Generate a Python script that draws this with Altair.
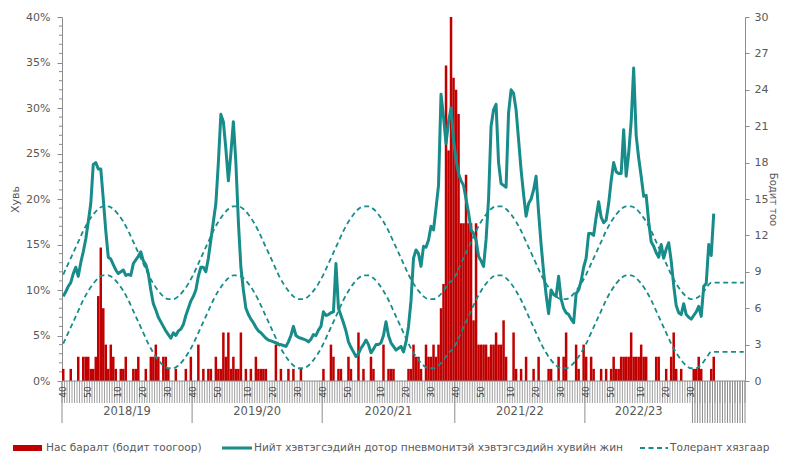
import altair as alt
import pandas as pd

# ---------------- data ----------------
pct = [
    9.3, 9.8, 10.4, 10.8, 11.8, 12.5, 11.5, 13.0, 14.2, 15.6,
    17.5, 19.5, 23.8, 24.0, 23.3, 23.3, 20.0, 16.5, 13.6, 13.4,
    12.8, 12.2, 11.8, 12.0, 12.2, 11.6, 11.7, 11.6, 12.9, 13.3,
    13.7, 14.2, 13.2, 12.8, 11.8, 10.0, 8.5, 7.8, 7.0, 6.5,
    6.0, 5.5, 5.1, 4.7, 5.3, 5.0, 5.5, 5.7, 6.2, 7.2,
    8.0, 8.8,
    9.3, 10.0, 11.5, 12.5, 12.5, 12.0, 13.5, 15.5, 17.5, 19.5,
    24.0, 29.3, 28.5, 25.5, 22.0, 25.0, 28.5, 24.0, 17.5, 12.5,
    10.0, 8.0, 7.3, 6.8, 6.4, 5.9, 5.5, 5.3, 5.0, 4.7,
    4.5, 4.4, 4.3, 4.2, 4.0, 4.0, 3.9, 3.8, 4.3, 5.0,
    6.0, 5.0, 4.8, 4.7, 4.6, 4.5, 4.3, 4.6, 5.1, 5.0,
    5.6, 6.0,
    7.6, 7.2, 7.3, 7.5, 7.6, 12.9, 8.0, 7.2, 6.4, 5.5,
    4.3, 3.7, 3.2, 2.7, 3.0, 3.6, 4.0, 4.5, 4.0, 3.1,
    3.5, 4.0, 4.0, 4.2, 5.0, 6.5, 5.0, 4.2, 3.8, 3.4,
    3.6, 3.8, 3.2, 4.3, 6.0, 8.8, 13.5, 14.4, 14.0, 12.6,
    14.8, 14.7, 15.5, 17.0, 16.6, 19.0, 21.5, 31.5, 29.0, 26.1,
    28.5, 30.0, 26.5,
    24.3, 22.8, 22.0, 21.5, 20.0, 18.5, 16.6, 16.2, 15.5, 13.7,
    13.2, 12.6, 15.5, 20.0, 28.0, 29.8, 30.4, 24.0, 21.7, 21.5,
    21.3, 29.5, 32.0, 31.6, 29.8, 26.5, 23.2, 20.5, 18.1, 19.5,
    20.0, 21.0, 22.5, 18.5, 15.0, 12.0, 9.5, 7.4, 10.0, 9.5,
    9.3, 11.5, 9.0, 8.0, 7.5, 7.3, 6.8, 6.4, 9.6, 10.0,
    11.0, 12.5,
    13.5, 16.2, 16.2, 16.0, 18.0, 19.7, 18.0, 17.4, 17.7, 19.5,
    22.0, 24.0, 23.0, 22.8, 22.8, 27.6, 22.5, 25.0, 28.5, 34.4,
    27.0, 24.5, 22.5, 20.3, 20.4, 17.5, 15.3, 14.8, 14.1, 13.6,
    15.0, 13.5, 14.5, 15.2, 13.2, 10.5, 8.3, 7.5, 7.3, 8.5,
    7.3, 7.0, 6.8, 7.2, 7.6, 8.2, 7.1, 10.4, 10.7, 15.0,
    13.8, 18.4,
]

deaths = [
    1, 0, 0, 1, 0, 0, 2, 0, 2, 2,
    2, 1, 1, 2, 7, 11, 6, 3, 1, 3,
    2, 1, 0, 1, 1, 2, 0, 0, 1, 1,
    2, 0, 0, 1, 0, 2, 2, 3, 2, 0,
    2, 2, 1, 0, 0, 1, 0, 0, 0, 1,
    0, 2,
    0, 0, 3, 0, 1, 0, 1, 1, 0, 2,
    1, 1, 4, 2, 4, 1, 2, 1, 1, 4,
    0, 1, 0, 1, 0, 2, 1, 1, 1, 1,
    0, 0, 0, 3, 0, 1, 0, 0, 1, 0,
    1, 0, 0, 1, 0, 0, 0, 0, 0, 0,
    0, 0,
    1, 0, 0, 3, 2, 0, 1, 1, 0, 0,
    2, 1, 0, 0, 4, 0, 1, 0, 0, 2,
    1, 0, 0, 0, 3, 0, 1, 1, 1, 0,
    0, 0, 0, 0, 1, 1, 3, 2, 2, 1,
    0, 3, 2, 2, 3, 2, 3, 6, 8, 26,
    19, 30, 25,
    24, 22, 13, 13, 17, 13, 13, 5, 13, 3,
    3, 3, 3, 2, 3, 3, 4, 3, 3, 5,
    2, 0, 0, 4, 1, 0, 1, 0, 2, 0,
    0, 1, 0, 2, 0, 0, 0, 1, 1, 0,
    0, 2, 0, 2, 4, 0, 0, 0, 3, 1,
    0, 3,
    2, 0, 2, 1, 0, 0, 1, 0, 1, 0,
    1, 2, 1, 1, 2, 2, 2, 2, 4, 2,
    2, 2, 3, 2, 2, 0, 0, 0, 2, 2,
    0, 0, 1, 0, 2, 4, 1, 0, 1, 0,
    0, 0, 0, 1, 1, 2, 1, 0, 0, 0,
    1, 2,
]

tol_week = (list(range(0, 51, 2)) + list(range(52, 103, 2)) + list(range(104, 155, 2)) + [156]
            + list(range(157, 208, 2)) + list(range(209, 252, 2)) + [253, 255, 257, 259, 272])
tol_upper = [
    11.7, 12.9, 14.1, 15.3, 16.5, 17.5, 18.3, 18.9, 19.2, 19.2, 18.9, 18.3, 17.5,
    16.5, 15.3, 14.1, 12.9, 11.7, 10.7, 9.9, 9.3, 9.0, 9.0, 9.3, 9.9, 10.7,
    11.7, 12.9, 14.1, 15.3, 16.5, 17.5, 18.3, 18.9, 19.2, 19.2, 18.9, 18.3, 17.5,
    16.5, 15.3, 14.1, 12.9, 11.7, 10.7, 9.9, 9.3, 9.0, 9.0, 9.3, 9.9, 10.7,
    11.7, 12.9, 14.1, 15.3, 16.5, 17.5, 18.3, 18.9, 19.2, 19.2, 18.9, 18.3, 17.5,
    16.5, 15.3, 14.1, 12.9, 11.7, 10.7, 9.9, 9.3, 9.0, 9.0, 9.3, 9.9, 10.7, 11.2,
    11.7, 12.9, 14.1, 15.3, 16.5, 17.5, 18.3, 18.9, 19.2, 19.2, 18.9, 18.3, 17.5,
    16.5, 15.3, 14.1, 12.9, 11.7, 10.7, 9.9, 9.3, 9.0, 9.0, 9.3, 9.9, 10.7,
    11.7, 12.9, 14.1, 15.3, 16.5, 17.5, 18.3, 18.9, 19.2, 19.2, 18.9, 18.3, 17.5,
    16.5, 15.3, 14.1, 12.9, 11.7, 10.7, 9.9, 9.3, 9.0,
    9.1, 9.5, 10.2, 10.8, 10.8,
]
tol_lower = [
    4.1, 5.3, 6.5, 7.7, 8.9, 9.9, 10.7, 11.3, 11.6, 11.6, 11.3, 10.7, 9.9,
    8.9, 7.7, 6.5, 5.3, 4.1, 3.1, 2.3, 1.7, 1.4, 1.4, 1.7, 2.3, 3.1,
    4.1, 5.3, 6.5, 7.7, 8.9, 9.9, 10.7, 11.3, 11.6, 11.6, 11.3, 10.7, 9.9,
    8.9, 7.7, 6.5, 5.3, 4.1, 3.1, 2.3, 1.7, 1.4, 1.4, 1.7, 2.3, 3.1,
    4.1, 5.3, 6.5, 7.7, 8.9, 9.9, 10.7, 11.3, 11.6, 11.6, 11.3, 10.7, 9.9,
    8.9, 7.7, 6.5, 5.3, 4.1, 3.1, 2.3, 1.7, 1.4, 1.4, 1.7, 2.3, 3.1, 3.6,
    4.1, 5.3, 6.5, 7.7, 8.9, 9.9, 10.7, 11.3, 11.6, 11.6, 11.3, 10.7, 9.9,
    8.9, 7.7, 6.5, 5.3, 4.1, 3.1, 2.3, 1.7, 1.4, 1.4, 1.7, 2.3, 3.1,
    4.1, 5.3, 6.5, 7.7, 8.9, 9.9, 10.7, 11.3, 11.6, 11.6, 11.3, 10.7, 9.9,
    8.9, 7.7, 6.5, 5.3, 4.1, 3.1, 2.3, 1.7, 1.4,
    1.4, 1.8, 2.5, 3.2, 3.2,
]

week_label_pos = [0, 10, 22, 32, 42, 52, 62, 74, 84, 94, 104, 114, 127, 137, 147,
                  157, 167, 179, 189, 199, 209, 219, 231, 241, 251]
week_label_txt = ["40", "50", "10", "20", "30"] * 5
season_names = ["2018/19", "2019/20", "2020/21", "2021/22", "2022/23"]
season_start = [0, 52, 104, 157, 209]
season_end = [51, 103, 156, 208, 251]
N_CAT = 273

legend_labels = ["Нас баралт (бодит тоогоор)",
                 "Нийт хэвтэгсэдийн дотор пневмонитэй хэвтэгсэдийн хувийн жин",
                 "Толерант хязгаар"]

# ---------------- style ----------------
W, H = 683, 364
TEAL = "#178C8A"
RED = "#C00000"
GREY = "#595959"
AXC = "#8C8C8C"
FONT = "DejaVu Sans"

df = pd.DataFrame({"i": list(range(len(pct))), "pct": pct, "deaths": deaths})
tol = pd.DataFrame({"i": tol_week, "upper": tol_upper, "lower": tol_lower})

xscale = alt.Scale(domain=[-0.5, N_CAT - 0.5], nice=False, zero=False)
pscale = alt.Scale(domain=[0, 40], nice=False)
cscale = alt.Scale(domain=[0, 30], nice=False)
X = lambda f: alt.X(f, scale=xscale, axis=None)

bars = alt.Chart(df).transform_filter("datum.deaths > 0").transform_calculate(
    x0="datum.i - 0.5", x1="datum.i + 0.5"
).mark_rect(color=RED).encode(
    x=X("x0:Q"), x2="x1:Q",
    y=alt.Y("deaths:Q", scale=cscale,
            axis=alt.Axis(orient="right", values=list(range(0, 31, 3)), title="Бодит тоо",
                          grid=False, domainColor=AXC, tickColor=AXC, tickSize=4,
                          labelPadding=5, titlePadding=0, titleFontSize=10)),
    y2=alt.datum(0),
)

tol_up = alt.Chart(tol).mark_line(color=TEAL, strokeWidth=1.8, strokeDash=[5, 3.5],
                                  interpolate="monotone").encode(
    x=X("i:Q"), y=alt.Y("upper:Q", scale=pscale, axis=None))
tol_lo = alt.Chart(tol).mark_line(color=TEAL, strokeWidth=1.8, strokeDash=[5, 3.5],
                                  interpolate="monotone").encode(
    x=X("i:Q"), y=alt.Y("lower:Q", scale=pscale, axis=None))

line = alt.Chart(df).mark_line(color=TEAL, strokeWidth=3, strokeJoin="round").encode(
    x=X("i:Q"),
    y=alt.Y("pct:Q", scale=pscale,
            axis=alt.Axis(orient="left", values=list(range(0, 41, 5)),
                          labelExpr="datum.value + '%'", title="Хувь", grid=False,
                          domainColor=AXC, tickColor=AXC, tickSize=5, labelPadding=7,
                          titlePadding=5)),
)

minor = alt.Chart(pd.DataFrame({"v": [k for k in range(1, 40) if k % 5]})).mark_rule(
    color=AXC).encode(y=alt.Y("v:Q", scale=pscale, axis=None),
                      x=alt.value(-3), x2=alt.value(0))

# category axis drawn by hand
hatch = alt.Chart(pd.DataFrame({"b": [k - 0.5 for k in range(N_CAT + 1)]})).mark_rule(
    color="#A0A0A0", strokeWidth=1).encode(x=X("b:Q"), y=alt.value(H), y2=alt.value(H + 22))
long_pos = [s - 0.5 for s in season_start] + [k - 0.5 for k in range(season_end[-1] + 1, N_CAT + 1)]
longt = alt.Chart(pd.DataFrame({"b": long_pos})).mark_rule(color="#8C8C8C", strokeWidth=1).encode(
    x=X("b:Q"), y=alt.value(H), y2=alt.value(H + 42))
baseline = alt.Chart(pd.DataFrame({"a": [0]})).mark_rule(color=AXC).encode(
    x=alt.value(0), x2=alt.value(W), y=alt.value(H))
wlabels = alt.Chart(pd.DataFrame({"pos": week_label_pos, "txt": week_label_txt})).mark_text(
    angle=270, fontSize=9, color="#404040", font=FONT, align="center", baseline="middle").encode(
    x=X("pos:Q"), y=alt.value(H + 11), text="txt:N")
slabels = alt.Chart(pd.DataFrame({"name": season_names, "s": season_start, "e": season_end})
                    ).transform_calculate(mid="(datum.s + datum.e) / 2").mark_text(
    fontSize=11.5, color=GREY, font=FONT, align="center", baseline="middle").encode(
    x=X("mid:Q"), y=alt.value(H + 31), text="name:N")

# legend drawn by hand
LY = H + 67
one = pd.DataFrame({"a": [0]})
leg_rect = alt.Chart(one).mark_rect(color=RED).encode(
    x=alt.value(-49), x2=alt.value(-20), y=alt.value(LY - 3), y2=alt.value(LY + 3))
leg_line = alt.Chart(one).mark_rule(color=TEAL, strokeWidth=3).encode(
    x=alt.value(160), x2=alt.value(190), y=alt.value(LY))
leg_dash = alt.Chart(one).mark_rule(color=TEAL, strokeWidth=1.8, strokeDash=[5, 3.5]).encode(
    x=alt.value(578), x2=alt.value(606), y=alt.value(LY))
leg_texts = []
for lab, xp in zip(legend_labels, [-16, 192, 608]):
    leg_texts.append(alt.Chart(pd.DataFrame({"t": [lab]})).mark_text(
        fontSize=10.6, color=GREY, font=FONT, align="left", baseline="middle").encode(
        x=alt.value(xp), y=alt.value(LY), text="t:N"))

chart = alt.layer(
    bars, tol_up, tol_lo, line, minor, hatch, longt, baseline, wlabels, slabels,
    leg_rect, leg_line, leg_dash, *leg_texts
).resolve_scale(y="independent").properties(
    width=W, height=H,
    autosize=alt.AutoSizeParams(type="none"),
    padding={"left": 54, "top": 9, "right": 35, "bottom": 72},
    background="white",
).configure_view(stroke=None).configure_axis(
    labelFont=FONT, titleFont=FONT, labelFontSize=11, titleFontSize=11,
    labelColor=GREY, titleColor=GREY, titleFontWeight="normal",
)

chart.save("out.html", embed_options={"renderer": "svg", "actions": False})
